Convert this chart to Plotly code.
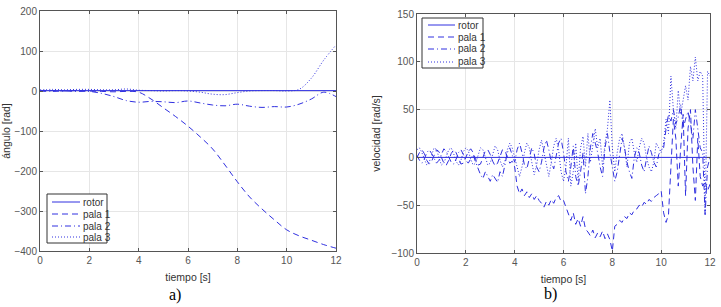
import plotly.graph_objects as go

W, H = 721, 307

# ---------------- panel a) : angle ----------------
t_a = [0, 0.5, 1, 1.5, 2, 2.5, 3, 3.5, 4, 4.5, 5, 5.5, 6, 6.5, 7, 7.5, 8, 8.5, 9, 9.5, 10, 10.5, 11, 11.5, 12]
rotor_ang = [1, 1, 1, 1, 1, 1, 1, 1, 1, 1, 1, 1, 1, 1, 1, 1, 1, 1, 1, 1, 1, 1, 1, 1, 1]
pala1_ang = [0, 1, 0, 1, 0, -1, -2, -1, -3, -20, -42, -64, -88, -115, -145, -185, -227, -265, -295, -322, -347, -362, -373, -384, -393]
pala2_ang = [0, -1, 0, -1, -1, -6, -14, -24, -28, -26, -27, -29, -25, -30, -35, -37, -33, -38, -41, -39, -40, -33, -20, -3, -14]
pala3_ang = [3, 4, 3, 4, 4, 3, 3, 5, 2, 1, 0, 1, 0, -3, -8, -9, -4, 0, 1, 1, 0, 4, 32, 77, 115]

# ---------------- panel b) : velocity ----------------
t_b = [i / 10 for i in range(121)]
rotor_t = [0, 3, 6, 9, 12]
rotor_vel = [0, 0, 0, 0, 0]
pala1_vel = [
    0, 5, 8, 4, -3, -7, -4, 3, 8, 6,
    0, -6, -8, -3, 4, 8, 5, -2, -7, -6,
    0, 6, 9, 5, -2, -8, -7, 0, 7, 8,
    3, -4, -9, -6, 2, 8, 7, 0, -6, -4,
    -10, -30, -38, -33, -40, -36, -42, -38, -44, -40,
    -45, -48, -52, -46, -50, -44, -48, -42, -40, -46,
    -45, -52, -60, -66, -58, -70, -64, -72, -62, -75,
    -78, -82, -76, -84, -79, -83, -77, -85, -80, -86,
    -98, -72, -70, -66, -68, -62, -64, -58, -60, -55,
    -54, -50, -52, -47, -49, -44, -46, -42, -40, -38,
    -35, -58, -68, -60, -10, 40, 20, -30, 10, 45,
    -40, 30, 50, -10, -45, 20, -20, -30, -25, -35,
    -28]
pala2_vel = [
    2, -3, -6, -2, 5, 8, 4, -2, -6, -3,
    4, 9, 6, 0, -5, -7, -2, 5, 8, 3,
    -3, -6, -2, 3, -5, -12, -18, -22, -15, -20,
    -25, -18, -22, -26, -15, -20, -8, 5, 10, 2,
    -5, 8, 15, 5, -8, -12, 0, 10, 4, -10,
    -15, -5, 10, 18, 8, -5, -12, 2, 15, 20,
    5, -15, -25, -10, 12, -20, -30, -15, 5, -38,
    -20, 10, 25, 15, 5, -10, -20, 10, 25, 5,
    -10, -25, -15, 5, 20, 10, -5, -15, -22, 0,
    10, 5, -8, -15, 0, 12, 5, -5, -10, 3,
    8, 10, 30, 45, 38, 50, 35, 42, 55, 30,
    40, 48, 35, 20, 50, 30, 10, 5, -60, -10,
    0]
pala3_vel = [
    8, 10, 5, -2, -8, -5, 3, 10, 8, 0,
    -8, -6, 2, 8, 10, 4, -4, -8, -3, 6,
    10, 7, -2, -8, -6, 3, 10, 8, 0, -8,
    -6, 4, 12, 8, -3, -10, -4, 8, 15, 10,
    0, -12, -20, -10, 5, 15, 10, -5, -18, -8,
    8, 18, 5, -10, -20, -5, 12, 20, 8, -15,
    -25, -10, 20, -30, -15, 15, -25, 10, 22, -10,
    25, -5, 15, 30, 10, 20, -10, 15, 30, 60,
    10, -15, 5, 20, 25, 10, -10, 15, 20, 5,
    -5, 10, 20, 15, 0, -10, -15, -5, 15, 10,
    5, 15, 40, 25, 85, 50, 30, 70, 45, 60,
    75, 60, 95, 80, 105, 80, 90, 85, -60, 90,
    85]

names = ["rotor", "pala 1", "pala 2", "pala 3"]
dashes = ["solid", "6px,4px", "6px,3px,1px,3px", "1px,2px"]
BLUE = "#3030e0"

fig = go.Figure()
series_a = [(t_a, rotor_ang), (t_a, pala1_ang), (t_a, pala2_ang), (t_a, pala3_ang)]
series_b = [(rotor_t, rotor_vel), (t_b, pala1_vel), (t_b, pala2_vel), (t_b, pala3_vel)]
for (x, y), nm, d in zip(series_a, names, dashes):
    fig.add_trace(go.Scatter(x=x, y=y, name=nm, mode="lines", showlegend=False,
                             line=dict(color=BLUE, width=1, dash=d, shape="spline" if nm != "rotor" else "linear"),
                             xaxis="x", yaxis="y"))
for (x, y), nm, d in zip(series_b, names, dashes):
    fig.add_trace(go.Scatter(x=x, y=y, name=nm, mode="lines", showlegend=False,
                             line=dict(color=BLUE, width=1, dash=d),
                             xaxis="x2", yaxis="y2"))

def px(x):
    return x / W

def py(y):
    return 1 - y / H

axis_common = dict(showline=True, linecolor="#555555", linewidth=1, mirror="ticks",
                   ticks="inside", ticklen=3, tickcolor="#555555", automargin=False,
                   ticklabeloverflow="allow",
                   showgrid=True, gridcolor="#e6e6e6", zeroline=False,
                   tickfont=dict(family="Liberation Sans, Arial", size=10, color="#555555"))
title_font = dict(family="Liberation Sans, Arial", size=10.5, color="#333333")

fig.update_layout(
    width=W, height=H, margin=dict(l=0, r=0, t=0, b=0),
    paper_bgcolor="white", plot_bgcolor="white", showlegend=False,
    xaxis=dict(domain=[px(40), px(336)], range=[0, 12], tickvals=[0, 2, 4, 6, 8, 10, 12],
               title=dict(text="tiempo [s]", font=title_font, standoff=8), anchor="y", **axis_common),
    yaxis=dict(domain=[py(251), py(11)], range=[-400, 200], tickvals=[-400, -300, -200, -100, 0, 100, 200],
               title=dict(text="ángulo [rad]", font=title_font, standoff=6), anchor="x", **axis_common),
    xaxis2=dict(domain=[px(417), px(710)], range=[0, 12], tickvals=[0, 2, 4, 6, 8, 10, 12],
                title=dict(text="tiempo [s]", font=title_font, standoff=8), anchor="y2", **axis_common),
    yaxis2=dict(domain=[py(253), py(14)], range=[-100, 150], tickvals=[-100, -50, 0, 50, 100, 150],
                title=dict(text="velocidad [rad/s]", font=title_font, standoff=8), anchor="x2", **axis_common),
)

# panel labels
for txt, x, y in [("a)", 175, 295), ("b)", 550, 294)]:
    fig.add_annotation(text=txt, x=px(x), y=py(y), xref="paper", yref="paper", showarrow=False,
                       xanchor="center", yanchor="middle",
                       font=dict(family="Liberation Serif, Times New Roman", size=16, color="black"))

# legends (box, line samples, labels)
def legend(x0, y0, x1, y1, ys, lx0, lx1, tx):
    fig.add_shape(type="rect", xref="paper", yref="paper", x0=px(x0), x1=px(x1), y0=py(y0), y1=py(y1),
                  line=dict(color="#333333", width=1), fillcolor="white", layer="above")
    for nm, d, yy in zip(names, dashes, ys):
        fig.add_shape(type="line", xref="paper", yref="paper", x0=px(lx0), x1=px(lx1), y0=py(yy), y1=py(yy),
                      line=dict(color=BLUE, width=1, dash=d), layer="above")
        fig.add_annotation(text=nm, x=px(tx), y=py(yy), xref="paper", yref="paper", showarrow=False,
                           xanchor="left", yanchor="middle",
                           font=dict(family="Liberation Sans, Arial", size=10, color="#333333"))

legend(47, 194, 107, 243, [202, 214, 226, 237], 52, 80, 81)
legend(422, 18, 483, 68, [25, 37, 49, 62], 428, 455, 456)

# remove the default 8px page margin so the figure sits at the window's top-left corner
fig.write_html("out.html", config={"displayModeBar": False},
               post_script="document.body.style.margin='0';")
